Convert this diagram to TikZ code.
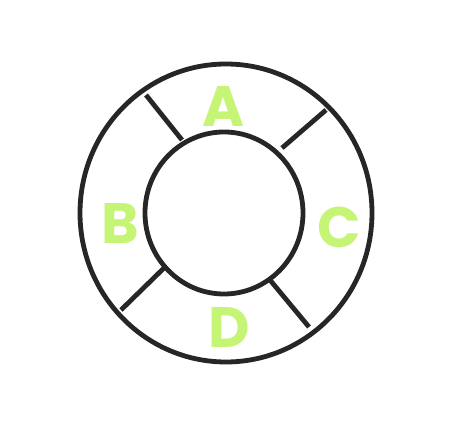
\documentclass[tikz,border=0pt]{standalone}
\usepackage{fontspec}
\setmainfont{Poppins}
\definecolor{lbl}{RGB}{198,245,118}
\begin{document}
\begin{tikzpicture}[x=1pt,y=1pt,
  ring/.style={draw=black!85,line width=4.8pt},
  lab/.style={text=lbl,font=\bfseries\fontsize{57}{57}\selectfont,inner sep=0pt}]
\useasboundingbox (0,0) rectangle (452,436);
\fill[white] (0,0) rectangle (452,436);
\coordinate (c) at (226,223);
\draw[ring] (c) ellipse [x radius=146, y radius=149];
\draw[ring] (224,223) ellipse [x radius=79, y radius=81];
\coordinate (i1) at (182,296); \coordinate (o1) at (146,341);
\coordinate (i2) at (282,288); \coordinate (o2) at (326,326);
\coordinate (i3) at (164,168); \coordinate (o3) at (121,126);
\coordinate (i4) at (270,156); \coordinate (o4) at (309,109);
\draw[ring] (i1) -- (o1);
\draw[ring] (i2) -- (o2);
\draw[ring] (i3) -- (o3);
\draw[ring] (i4) -- (o4);
\node[lab] (A) at (224,330) {A};
\node[lab] (B) at (120,213) {B};
\node[lab] (C) at (339,209) {C};
\node[lab] (D) at (229,109) {D};
\end{tikzpicture}
\end{document}
